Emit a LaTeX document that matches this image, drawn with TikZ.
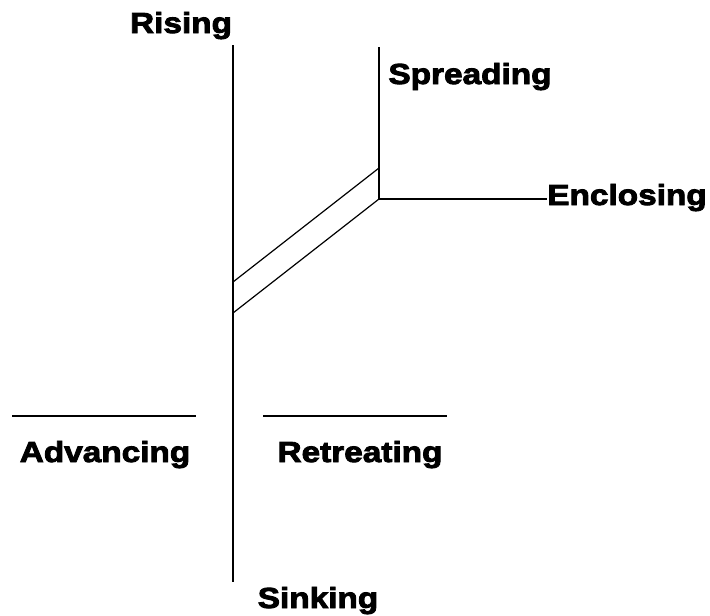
\documentclass[tikz,border=0pt]{standalone}
\usepackage{fontspec}
\newfontfamily\lblfont{Liberation Sans Bold}[FakeStretch=1.15,FakeBold=3]
\usepackage{tikz}
\usetikzlibrary{positioning}

\begin{document}
\begin{tikzpicture}[
    x=1pt, y=-1pt,
    axis/.style={line width=1.3pt},
    band/.style={line width=1.2pt},
    lbl/.style={inner sep=0pt, anchor=base, font=\lblfont\fontsize{29}{32}\selectfont}
]
    \useasboundingbox (0,0) rectangle (710,616);

    % points of the frame
    \coordinate (top)      at (233,45);
    \coordinate (bottom)   at (233,582);
    \coordinate (hub)      at (379,199);
    \coordinate (hubtop)   at (379,47);
    \coordinate (bandhi)   at (379,168);
    \coordinate (bandlo1)  at (233,282);
    \coordinate (bandlo2)  at (233,313);
    \coordinate (advL)     at (12,416);
    \coordinate (advR)     at (196,416);
    \coordinate (retL)     at (263,416);
    \coordinate (retR)     at (447,416);

    \node[lbl] (rising)   at (181,33)  {Rising};
    \node[lbl] (spread)   at (470,84)  {Spreading};
    \node[lbl] (enclose)  at (627,205) {Enclosing};
    \node[lbl] (advance)  at (105,462) {Advancing};
    \node[lbl] (retreat)  at (360,462) {Retreating};
    \node[lbl] (sinking)  at (318,608) {Sinking};

    \draw[axis] (top) -- (bottom);
    \draw[axis] (hubtop) -- (hub) -- (hub -| enclose.west);
    \draw[band] (bandhi) -- (bandlo1);
    \draw[band] (hub) -- (bandlo2);
    \draw[band] (advL) -- (advR);
    \draw[band] (retL) -- (retR);
\end{tikzpicture}
\end{document}
